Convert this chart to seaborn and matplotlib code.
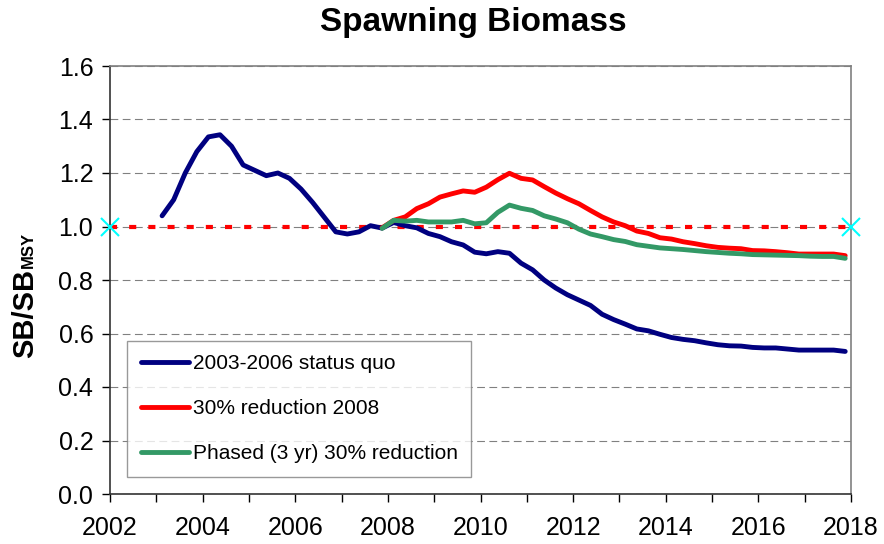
import numpy as np
import pandas as pd
import matplotlib
matplotlib.use("Agg")
import matplotlib.pyplot as plt
import seaborn as sns

# Quarterly projection values
status_quo_years = 2003.125 + 0.25 * np.arange(60)
status_quo = [1.04, 1.10, 1.20, 1.28,
              1.335, 1.343, 1.30, 1.23,
              1.21, 1.19, 1.20, 1.18,
              1.14, 1.09, 1.035, 0.98,
              0.972, 0.98, 1.003, 0.994,
              1.015, 1.003, 0.995, 0.974,
              0.962, 0.943, 0.931, 0.904,
              0.898, 0.906, 0.90, 0.863,
              0.838, 0.80, 0.77, 0.745,
              0.725, 0.705, 0.672, 0.652,
              0.635, 0.617, 0.61, 0.597,
              0.585, 0.578, 0.573, 0.565,
              0.558, 0.554, 0.553, 0.548,
              0.546, 0.546, 0.542, 0.538,
              0.538, 0.538, 0.538, 0.533]

reduction_years = 2007.875 + 0.25 * np.arange(41)
reduction_2008 = [0.995,
                  1.023, 1.036, 1.067, 1.085,
                  1.11, 1.122, 1.133, 1.128,
                  1.147, 1.175, 1.199, 1.18,
                  1.174, 1.149, 1.125, 1.104,
                  1.085, 1.06, 1.036, 1.017,
                  1.003, 0.983, 0.974, 0.958,
                  0.953, 0.943, 0.936, 0.928,
                  0.922, 0.919, 0.917, 0.91,
                  0.909, 0.906, 0.902, 0.897,
                  0.897, 0.897, 0.897, 0.891]
phased = [0.993,
          1.023, 1.02, 1.023, 1.017,
          1.017, 1.017, 1.023, 1.01,
          1.014, 1.053, 1.08, 1.068,
          1.06, 1.04, 1.028, 1.014,
          0.99, 0.972, 0.962, 0.951,
          0.944, 0.932, 0.926, 0.92,
          0.917, 0.914, 0.91, 0.906,
          0.903, 0.90, 0.898, 0.895,
          0.894, 0.893, 0.892, 0.891,
          0.889, 0.888, 0.888, 0.881]

series_names = ["2003-2006 status quo", "30% reduction 2008", "Phased (3 yr) 30% reduction"]
series_colors = ["#000080", "#FF0000", "#339966"]

ref_years = [2002, 2018]
ref_values = [1.0, 1.0]

# Long table for seaborn
df = pd.concat([
    pd.DataFrame({"Year": status_quo_years, "SB": status_quo, "Scenario": series_names[0]}),
    pd.DataFrame({"Year": reduction_years, "SB": reduction_2008, "Scenario": series_names[1]}),
    pd.DataFrame({"Year": reduction_years, "SB": phased, "Scenario": series_names[2]}),
])

sns.set_theme(style="white")
plt.rcParams["font.family"] = ["Liberation Sans", "DejaVu Sans"]
plt.rcParams["text.color"] = "black"
plt.rcParams["axes.labelcolor"] = "black"
plt.rcParams["xtick.color"] = "black"
plt.rcParams["ytick.color"] = "black"

fig = plt.figure(figsize=(8.84, 5.44), dpi=100)
ax = fig.add_axes([110 / 884, 1 - 494 / 544, (851 - 110) / 884, (494 - 66) / 544])

# Horizontal dashed grid
ax.yaxis.grid(True, color="#808080", linestyle=(0, (7, 4)), linewidth=0.8)
ax.set_axisbelow(True)

# Reference line at SB/SBmsy = 1
ax.plot(ref_years, ref_values, color="#FF0000", linewidth=3, linestyle=(0, (1.7, 2.9)),
        clip_on=False, zorder=2)

sns.lineplot(data=df, x="Year", y="SB", hue="Scenario", hue_order=series_names,
             palette=series_colors, linewidth=3.5, ax=ax, legend=False, zorder=3,
             estimator=None, sort=False)
for line in ax.get_lines()[1:]:
    line.set_solid_capstyle("round")
    line.set_solid_joinstyle("round")

ax.plot(ref_years, ref_values, linestyle="none", marker="x", color="#00FFFF",
        markersize=13, markeredgewidth=1.5, clip_on=False, zorder=5)

ax.set_xlim(2002, 2018)
ax.set_ylim(0, 1.6)
ax.set_xticks(np.arange(2002, 2019, 2))
ax.set_xticks(np.arange(2002, 2019, 1), minor=True)
ax.set_yticks(np.arange(0, 1.61, 0.2))
ax.set_yticklabels([f"{v:.1f}" for v in np.arange(0, 1.61, 0.2)])
ax.tick_params(axis="both", which="both", direction="out", length=6, width=1,
               color="black", labelsize=18, pad=6)
ax.tick_params(axis="x", which="major", pad=10)
ax.tick_params(axis="x", which="minor", labelbottom=False)
ax.tick_params(left=True, bottom=True)
ax.tick_params(axis="x", which="minor", bottom=True)

for side in ["left", "bottom"]:
    ax.spines[side].set_color("#333333")
    ax.spines[side].set_linewidth(1.2)
for side in ["top", "right"]:
    ax.spines[side].set_color("#808080")
    ax.spines[side].set_linewidth(1.2)

ax.set_xlabel("")
ax.set_ylabel("")

# Y label: "SB/SB" with a small "MSY" subscript, rotated
ylab = fig.text(33 / 884, 1 - 358 / 544, "SB/SB", rotation=90, rotation_mode="anchor",
                ha="left", va="baseline", fontsize=21, fontweight="bold")
fig.canvas.draw()
bb = ylab.get_window_extent()
fig.text(33 / 884, (bb.y1 + 1) / 544, "MSY", rotation=90, rotation_mode="anchor",
         ha="left", va="baseline", fontsize=12, fontweight="bold")

fig.text(473 / 884, 1 - 23 / 544, "Spawning Biomass", fontsize=24, fontweight="bold",
         ha="center", va="center")

handles = [plt.Line2D([], [], color=c, linewidth=3.5, solid_capstyle="round") for c in series_colors]
leg = ax.legend(handles, series_names, loc="lower left", bbox_to_anchor=(0.023, 0.04),
                borderaxespad=0, fontsize=15, frameon=True, fancybox=False,
                handlelength=2.3, handletextpad=0.2, labelspacing=1.25, borderpad=0.65)
leg.get_frame().set_edgecolor("#808080")
leg.get_frame().set_linewidth(1.0)
leg.set_zorder(6)

fig.savefig("out.png", dpi=100)
